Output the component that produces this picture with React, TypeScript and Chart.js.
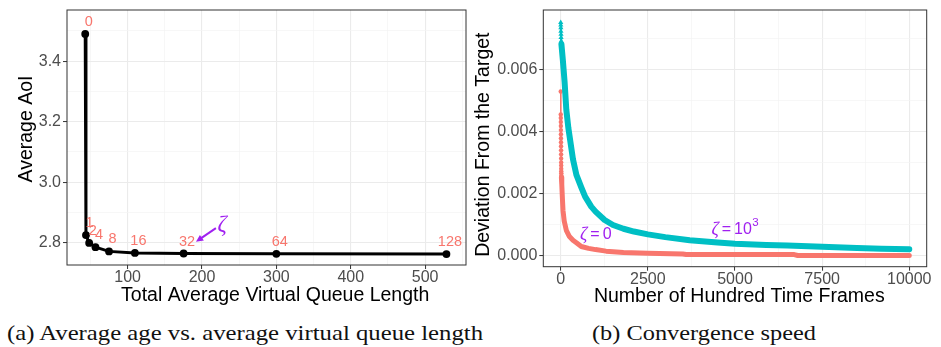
import React, { useEffect, useLayoutEffect, useRef } from 'react';
import { Chart, registerables } from 'chart.js';

Chart.register(...registerables);

// ---------- Panel (a): average AoI vs. total average virtual queue length ----------
const zetaLabels = ['0', '1', '2', '4', '8', '16', '32', '64', '128'];
const queueLength = [43, 44, 48.3, 56.8, 75, 109.8, 175.3, 300, 528.7];
const averageAoI = [3.49, 2.825, 2.799, 2.785, 2.771, 2.766, 2.764, 2.763, 2.762];

const leftXMajor = [100, 200, 300, 400, 500];
const leftXMinor = [50, 150, 250, 350, 450, 550];
const leftYMajor = [2.8, 3.0, 3.2, 3.4];
const leftYMinor = [2.9, 3.1, 3.3, 3.5];

// zeta annotation (data coordinates)
const zetaTextPos = [227, 2.857];
const arrowFrom = [218.7, 2.848];
const arrowTo = [191.9, 2.8026];

// ---------- Panel (b): convergence speed ----------
const frames0 = [0, 1, 2, 3, 4, 5, 6, 7, 8, 9, 10, 11, 12, 13, 14, 15, 16, 17, 18, 19,
  30, 50, 66, 100, 160, 250, 352, 450, 590, 800, 1000, 1300, 1800, 2500, 3500, 3600, 5000, 6700, 6800, 8500, 10000];
const deviation0 = [0.00528, 0.00454, 0.00443, 0.0043, 0.00417, 0.00404, 0.00391, 0.00378, 0.00365, 0.00352,
  0.00339, 0.00326, 0.00313, 0.003, 0.0029, 0.0028, 0.00272, 0.00265, 0.00258, 0.00252,
  0.0023, 0.0018, 0.00145, 0.00112, 0.00082, 0.00062, 0.0005, 0.00042, 0.0003, 0.00024, 0.0002, 0.00015,
  0.00011, 0.00008, 0.00006, 0.00004, 0.00004, 0.00004, 0.00001, 0.00001, 0.00001];
const head0 = 20;

const frames1000 = [0, 2, 4, 6, 8, 10, 14, 20, 60, 110, 160, 220, 352, 450, 590, 700, 876, 1000, 1260, 1500,
  1800, 2100, 2500, 3000, 3700, 4500, 5000, 5900, 6500, 7500, 8500, 9200, 10000];
const deviation1000 = [0.0075, 0.00742, 0.00733, 0.00722, 0.00712, 0.00702, 0.0069, 0.0068, 0.0063, 0.0056,
  0.0047, 0.0041, 0.0031, 0.0026, 0.0022, 0.0019, 0.00158, 0.00142, 0.00115, 0.00099,
  0.00087, 0.00078, 0.00069, 0.0006, 0.0005, 0.00043, 0.00039, 0.00035, 0.00033, 0.00029, 0.00025, 0.00023, 0.00021];
const head1000 = 8;

const rightXMajor = [0, 2500, 5000, 7500, 10000];
const rightXMinor = [1250, 3750, 6250, 8750];
const rightYMajor = [0, 0.002, 0.004, 0.006];
const rightYMinor = [0.001, 0.003, 0.005, 0.007];

const zeta0LabelPos = [553, 0.00069];
const zeta1000LabelPos = [4323, 0.00085];

const RED = '#F8766D';
const TEAL = '#00BFC4';
const PURPLE = '#A020F0';
const SANS = '"Liberation Sans", Arial, Helvetica, sans-serif';

function axis(major: number[], minor: number[], fmt: (v: number) => string, extra: any) {
  return {
    type: 'linear',
    min: extra.min,
    max: extra.max,
    afterBuildTicks: (scale: any) => {
      scale.ticks = [...major, ...minor].sort((a, b) => a - b).map((v) => ({ value: v }));
    },
    ticks: {
      autoSkip: false,
      maxRotation: 0,
      color: '#4D4D4D',
      font: { family: SANS, size: 16, lineHeight: 1 },
      padding: extra.tickPadding ?? 2,
      callback: (v: number) => (major.includes(v) ? fmt(v) : ''),
    },
    grid: {
      color: (c: any) => (c.tick && major.includes(c.tick.value) ? '#EBEBEB' : '#F3F3F3'),
      lineWidth: (c: any) => (c.tick && major.includes(c.tick.value) ? 1.1 : 0.7),
      tickColor: (c: any) => (c.tick && major.includes(c.tick.value) ? '#333333' : 'rgba(0,0,0,0)'),
      tickLength: 4,
      tickWidth: 1,
    },
    border: { display: false },
  };
}

const frame = {
  id: 'panelFrame',
  afterDraw(chart: any) {
    const { ctx, chartArea: a } = chart;
    ctx.save();
    ctx.strokeStyle = '#333333';
    ctx.lineWidth = 1;
    ctx.strokeRect(a.left, a.top, a.right - a.left, a.bottom - a.top);
    ctx.restore();
  },
};

// axis titles: text, horizontal offset of x title from panel centre, baseline y; y title x and vertical offset
function axisTitles(xText: string, xDx: number, xY: number, yText: string, yX: number, yDy: number) {
  return {
    id: 'axisTitles',
    afterDraw(chart: any) {
      const { ctx, chartArea: a } = chart;
      ctx.save();
      ctx.fillStyle = '#000000';
      ctx.font = `19.5px ${SANS}`;
      ctx.textAlign = 'center';
      ctx.textBaseline = 'middle';
      ctx.fillText(xText, (a.left + a.right) / 2 + xDx, xY);
      ctx.translate(yX, (a.top + a.bottom) / 2 + yDy);
      ctx.rotate(-Math.PI / 2);
      ctx.fillText(yText, 0, 0);
      ctx.restore();
    },
  };
}

const leftLabels = {
  id: 'leftLabels',
  afterDatasetsDraw(chart: any) {
    const { ctx } = chart;
    const x = chart.scales.x;
    const y = chart.scales.y;
    ctx.save();
    ctx.fillStyle = RED;
    ctx.font = `14.5px ${SANS}`;
    ctx.textAlign = 'center';
    ctx.textBaseline = 'middle';
    zetaLabels.forEach((t, i) => {
      ctx.fillText(t, x.getPixelForValue(queueLength[i]) + 3.5, y.getPixelForValue(averageAoI[i]) - 12);
    });
    // arrow
    const x0 = x.getPixelForValue(arrowFrom[0]);
    const y0 = y.getPixelForValue(arrowFrom[1]);
    const x1 = x.getPixelForValue(arrowTo[0]);
    const y1 = y.getPixelForValue(arrowTo[1]);
    const ang = Math.atan2(y1 - y0, x1 - x0);
    const hl = 8;
    const hw = 0.45;
    ctx.strokeStyle = PURPLE;
    ctx.fillStyle = PURPLE;
    ctx.lineWidth = 2;
    ctx.beginPath();
    ctx.moveTo(x0, y0);
    ctx.lineTo(x1 - Math.cos(ang) * hl * 0.8, y1 - Math.sin(ang) * hl * 0.8);
    ctx.stroke();
    ctx.beginPath();
    ctx.moveTo(x1, y1);
    ctx.lineTo(x1 - hl * Math.cos(ang - hw), y1 - hl * Math.sin(ang - hw));
    ctx.lineTo(x1 - hl * Math.cos(ang + hw), y1 - hl * Math.sin(ang + hw));
    ctx.closePath();
    ctx.fill();
    ctx.font = 'italic 23px "Liberation Serif", "DejaVu Serif", serif';
    ctx.textAlign = 'center';
    ctx.fillText('ζ', x.getPixelForValue(zetaTextPos[0]), y.getPixelForValue(zetaTextPos[1]));
    ctx.restore();
  },
};

function drawZetaLabel(ctx: any, px: number, py: number, value: string, sup?: string) {
  ctx.fillStyle = PURPLE;
  ctx.textBaseline = 'middle';
  ctx.textAlign = 'left';
  ctx.font = 'italic 18px "Liberation Serif", "DejaVu Serif", serif';
  ctx.fillText('ζ', px, py + 1);
  let cx = px + ctx.measureText('ζ').width + 3;
  ctx.font = `16px ${SANS}`;
  ctx.fillText('=', cx, py);
  cx += ctx.measureText('=').width + 3;
  ctx.fillText(value, cx, py);
  cx += ctx.measureText(value).width + 0.5;
  if (sup) {
    ctx.font = `11.5px ${SANS}`;
    ctx.fillText(sup, cx, py - 7);
  }
}

const rightLabels = {
  id: 'rightLabels',
  afterDatasetsDraw(chart: any) {
    const { ctx } = chart;
    const x = chart.scales.x;
    const y = chart.scales.y;
    ctx.save();
    drawZetaLabel(ctx, x.getPixelForValue(zeta0LabelPos[0]), y.getPixelForValue(zeta0LabelPos[1]), '0');
    drawZetaLabel(ctx, x.getPixelForValue(zeta1000LabelPos[0]), y.getPixelForValue(zeta1000LabelPos[1]), '10', '3');
    ctx.restore();
  },
};

function pts(xs: number[], ys: number[]) {
  return xs.map((v, i) => ({ x: v, y: ys[i] }));
}

function LeftChart() {
  const ref = useRef<HTMLCanvasElement>(null);
  useEffect(() => {
    const chart = new Chart(ref.current as HTMLCanvasElement, {
      type: 'line',
      data: {
        datasets: [
          {
            data: pts(queueLength, averageAoI),
            borderColor: '#000000',
            backgroundColor: '#000000',
            borderWidth: 3,
            pointRadius: 3.9,
            pointBorderWidth: 0,
            pointBackgroundColor: '#000000',
            tension: 0,
          },
        ],
      },
      options: {
        responsive: false,
        animation: false,
        devicePixelRatio: 1,
        layout: { padding: { top: 7.3, right: 0.7, left: 0, bottom: 0 } },
        plugins: { legend: { display: false }, tooltip: { enabled: false } },
        scales: {
          x: {
            ...axis(leftXMajor, leftXMinor, (v) => String(v), { min: 18.5, max: 555, tickPadding: 1 }),
            afterFit: (s: any) => { s.height = 45; },
          },
          y: {
            ...axis(leftYMajor, leftYMinor, (v) => v.toFixed(1), { min: 2.726, max: 3.569, tickPadding: 2 }),
            afterFit: (s: any) => { s.width = 67; },
          },
        },
      } as any,
      plugins: [frame, leftLabels, axisTitles('Total Average Virtual Queue Length', 8.7, 296, 'Average AoI', 27, -8.5)],
    });
    return () => chart.destroy();
  }, []);
  return <canvas ref={ref} width={470} height={310} style={{ position: 'absolute', left: 0, top: 0 }} />;
}

function RightChart() {
  const ref = useRef<HTMLCanvasElement>(null);
  useEffect(() => {
    const chart = new Chart(ref.current as HTMLCanvasElement, {
      type: 'line',
      data: {
        datasets: [
          {
            data: pts(frames1000.slice(0, head1000), deviation1000.slice(0, head1000)),
            borderColor: TEAL,
            backgroundColor: TEAL,
            borderWidth: 2,
            pointStyle: 'triangle',
            pointRadius: 3,
            pointBorderWidth: 0,
            order: 0,
          },
          {
            data: pts(frames1000.slice(head1000 - 1), deviation1000.slice(head1000 - 1)),
            borderColor: TEAL,
            borderWidth: 6,
            pointRadius: 0,
            borderCapStyle: 'round',
            borderJoinStyle: 'round',
            order: 0,
          },
          {
            data: pts(frames0.slice(0, head0), deviation0.slice(0, head0)),
            borderColor: RED,
            backgroundColor: RED,
            borderWidth: 1.5,
            pointRadius: 2.2,
            pointBorderWidth: 0,
            order: 1,
          },
          {
            data: pts(frames0.slice(head0 - 1), deviation0.slice(head0 - 1)),
            borderColor: RED,
            borderWidth: 5,
            pointRadius: 0,
            borderCapStyle: 'round',
            borderJoinStyle: 'round',
            order: 1,
          },
        ],
      },
      options: {
        responsive: false,
        animation: false,
        devicePixelRatio: 1,
        layout: { padding: { top: 7.3, right: 14.3, left: 0, bottom: 0 } },
        plugins: { legend: { display: false }, tooltip: { enabled: false } },
        scales: {
          x: {
            ...axis(rightXMajor, rightXMinor, (v) => String(v), { min: -500, max: 10500, tickPadding: 1 }),
            afterFit: (s: any) => { s.height = 43.3; },
          },
          y: {
            ...axis(rightYMajor, rightYMinor, (v) => v.toFixed(3), { min: -0.00035, max: 0.0079, tickPadding: 2 }),
            afterFit: (s: any) => { s.width = 73.3; },
          },
        },
      } as any,
      plugins: [frame, rightLabels, axisTitles('Number of Hundred Time Frames', 4.3, 296.7, 'Deviation From the Target', 13.3, 6.3)],
    });
    return () => chart.destroy();
  }, []);
  return <canvas ref={ref} width={471} height={310} style={{ position: 'absolute', left: 470, top: 0 }} />;
}

function Caption({ text, left, width }: { text: string; left: number; width: number }) {
  const ref = useRef<HTMLSpanElement>(null);
  useLayoutEffect(() => {
    const el = ref.current;
    if (!el) return;
    el.style.transform = 'none';
    const w = el.getBoundingClientRect().width;
    if (w > 0) el.style.transform = `scaleX(${width / w})`;
  }, [text, width]);
  return (
    <span
      ref={ref}
      style={{
        position: 'absolute',
        left,
        top: 322,
        fontFamily: '"Liberation Serif", "Times New Roman", serif',
        fontSize: 21,
        lineHeight: '22px',
        whiteSpace: 'nowrap',
        transformOrigin: '0 0',
        color: '#111',
      }}
    >
      {text}
    </span>
  );
}

export default function App() {
  return (
    <div style={{ position: 'absolute', left: 0, top: 0, width: 941, height: 347, background: '#ffffff', overflow: 'hidden' }}>
      <LeftChart />
      <RightChart />
      <Caption text="(a) Average age vs. average virtual queue length" left={7} width={476} />
      <Caption text="(b) Convergence speed" left={591.7} width={224} />
    </div>
  );
}
